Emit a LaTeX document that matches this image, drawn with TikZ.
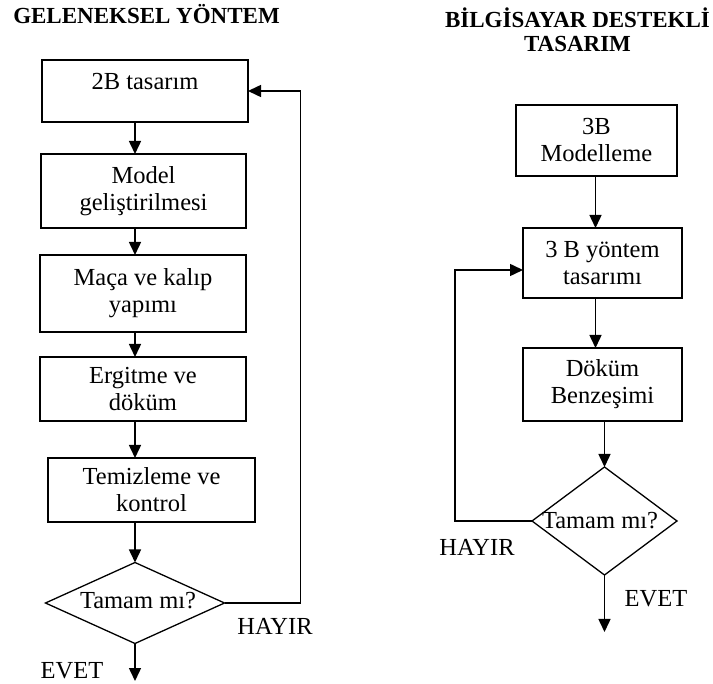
\documentclass[tikz,border=0pt]{standalone}
\usepackage{fontspec}
\setmainfont{Liberation Serif}
\usetikzlibrary{arrows.meta,shapes.geometric}
\begin{document}
\begin{tikzpicture}[x=1pt,y=-1pt,
  every node/.style={font=\fontsize{24.5}{27}\selectfont, inner sep=0pt, outer sep=0pt},
  box/.style={draw, line width=1.6pt, align=center},
  dia/.style={draw, diamond, line width=1.3pt, inner sep=0pt},
  arr/.style={line width=1.5pt, -{Triangle[length=13pt,width=12pt]}},
  ttl/.style={font=\bfseries\fontsize{23}{24}\selectfont, align=center}
]
\useasboundingbox (0,0) rectangle (713,684);
% titles
\node[ttl] (t1) at (146.5,14) {GELENEKSEL YÖNTEM};
\node[ttl] (t2) at (577.5,30) {BİLGİSAYAR DESTEKLİ\\TASARIM};
% left column
\node[box, minimum width=206pt, minimum height=62pt] (b1) at (145,91) {};
\node (b1t) at (145,82) {2B tasarım};
\node[box, minimum width=205pt, minimum height=74pt] (b2) at (143.5,191) {Model\\geliştirilmesi};
\node[box, minimum width=206pt, minimum height=77pt] (b3) at (143,293.5) {Maça ve kalıp\\yapımı};
\node[box, minimum width=206pt, minimum height=64pt] (b4) at (143,389) {Ergitme ve\\döküm};
\node[box, minimum width=207pt, minimum height=64pt] (b5) at (151.5,490) {Temizleme ve\\kontrol};
\node[dia, minimum width=179pt, minimum height=81pt] (d1) at (135,603) {};
\node (d1t) at (138,601) {Tamam mı?};
\node (h1) at (275,626) {HAYIR};
\node (e1) at (72,671) {EVET};
\coordinate (lx) at (135,0);
\coordinate (lend) at (135,681);
\draw[arr] (b1.south -| lx) -- (b2.north -| lx);
\draw[arr] (b2.south -| lx) -- (b3.north -| lx);
\draw[arr] (b3.south -| lx) -- (b4.north -| lx);
\draw[arr] (b4.south -| lx) -- (b5.north -| lx);
\draw[arr] (b5.south -| lx) -- (d1.north);
\draw[arr] (d1.south) -- (lend);
\draw[arr] (d1.east) -- ++(76,0) |- (b1.east);
% right column
\node[box, minimum width=161pt, minimum height=71pt] (rb1) at (596.5,140.5) {3B\\Modelleme};
\node[box, minimum width=159pt, minimum height=70pt] (rb2) at (602.5,263) {3 B yöntem\\tasarımı};
\node[box, minimum width=159pt, minimum height=73pt] (rb3) at (602.5,384.5) {Döküm\\Benzeşimi};
\node[dia, minimum width=145pt, minimum height=108pt] (rd) at (604.5,521) {};
\node (rdt) at (600,521) {Tamam mı?};
\node (h2) at (477,547) {HAYIR};
\node (e2) at (656,599) {EVET};
\coordinate (rx) at (595.5,0);
\coordinate (rl) at (455,270);
\coordinate (rend) at (604.5,632);
\draw[arr] (rb1.south -| rx) -- (rb2.north -| rx);
\draw[arr] (rb2.south -| rx) -- (rb3.north -| rx);
\draw[arr] (rb3.south -| rd.north) -- (rd.north);
\draw[arr] (rd.south) -- (rend);
\draw[arr] (rd.west) -| (rl) -- (rb2.west |- rl);
\end{tikzpicture}
\end{document}
